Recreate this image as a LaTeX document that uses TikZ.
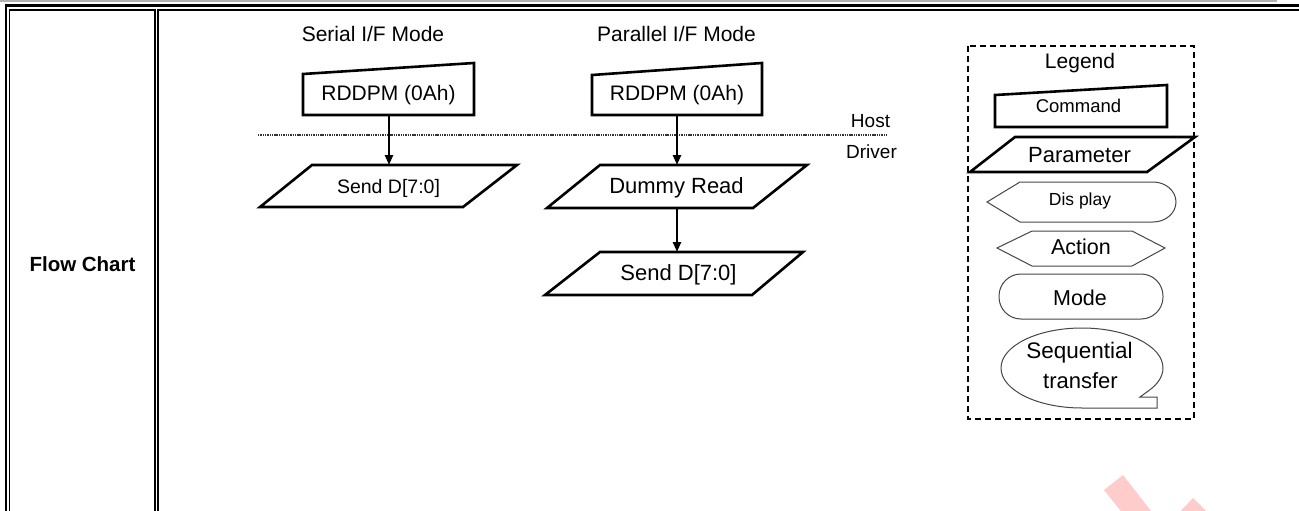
\documentclass[tikz,border=0pt]{standalone}
\usepackage{fontspec}
\setmainfont{Liberation Sans}
\usetikzlibrary{arrows.meta}
\definecolor{wm}{RGB}{255,204,204}
\definecolor{thin}{RGB}{70,70,70}
\tikzset{
  fs/.style={font=\fontsize{#1}{#1}\selectfont},
  lbl/.style={inner sep=0pt, anchor=base},
  thickshape/.style={draw=black, line width=2.6pt, line join=miter},
  thinshape/.style={draw=thin, line width=1pt},
  flowarrow/.style={line width=2.4pt, -{Triangle[length=10pt,width=8pt]}},
  border/.style={draw=black, line width=#1},
}
\begin{document}
\begin{tikzpicture}[x=1pt,y=-1pt]
\useasboundingbox (0,0) rectangle (1299,511);
\fill[white] (0,0) rectangle (1299,511);
% watermark
\begin{scope}
\clip (0,0) rectangle (1299,511);
\fill[wm] (1104,490) -- (1123,475) -- (1158,520) -- (1128,520) -- cycle;
\fill[wm] (1193,498) -- (1212,517) -- (1190,540) -- (1171,521) -- cycle;
\end{scope}
% table frame
\draw[gray!60, line width=1.2pt] (0,1) -- (1277,1);
\draw[border=3.3pt] (5,5.6) -- (1299,5.6);
\draw[border=1.5pt] (9,9.8) -- (155,9.8);
\draw[border=2pt] (157,10) -- (1299,10);
\draw[border=2pt] (6,4) -- (6,511);
\draw[border=1.5pt] (9.3,9) -- (9.3,511);
\draw[border=2pt] (155,9) -- (155,511);
\draw[border=2pt] (158,9) -- (158,511);
\node[lbl, fs=20.5, font=\bfseries\fontsize{20.5}{20.5}\selectfont] (fc) at (82.5,271) {Flow Chart};
% titles
\node[lbl, fs=21] (ts) at (373,42) {Serial I/F Mode};
\node[lbl, fs=21] (tp) at (676.5,42) {Parallel I/F Mode};
% host / driver divider
\coordinate (dl) at (258,135);
\coordinate (dr) at (888,135);
\draw[black!80, line width=1.1pt, dash pattern=on 1.4pt off 0.9pt] (dl) -- (dr);
\node[lbl, fs=19] (host) at (870.5,128) {Host};
\node[lbl, fs=19] (drv) at (871.5,158) {Driver};
% serial column
\draw[thickshape] (303,74) -- (474,63) -- (474,115) -- (303,115) -- cycle;
\node[lbl, fs=21] (s1) at (388.5,100) {RDDPM (0Ah)};
\draw[thickshape] (312,165) -- (517,165) -- (463,207) -- (260,207) -- cycle;
\node[lbl, fs=19.5] (s2) at (388.5,193) {Send D[7:0]};
\coordinate (s1b) at (389,115);
\coordinate (s2t) at (389,165);
\draw[flowarrow] (s1b) -- (s2t);
% parallel column
\draw[thickshape] (592,75) -- (762,63) -- (762,115) -- (592,115) -- cycle;
\node[lbl, fs=21] (p1) at (677,100) {RDDPM (0Ah)};
\draw[thickshape] (600,165) -- (807,165) -- (753,208) -- (547,208) -- cycle;
\node[lbl, fs=22] (p2) at (676.5,193) {Dummy Read};
\draw[thickshape] (600,252) -- (803,252) -- (752,295) -- (545,295) -- cycle;
\node[lbl, fs=22] (p3) at (678.5,280) {Send D[7:0]};
\coordinate (p1b) at (677,115);
\coordinate (p2t) at (677,165);
\coordinate (p2b) at (677,208);
\coordinate (p3t) at (677,252);
\draw[flowarrow] (p1b) -- (p2t);
\draw[flowarrow] (p2b) -- (p3t);
% legend
\draw[black, line width=1.5pt, dash pattern=on 6pt off 4pt] (968,46) rectangle (1194,419);
\node[lbl, fs=21] (lg) at (1080,69) {Legend};
\draw[thickshape] (995,95) -- (1167,85) -- (1167,127) -- (995,127) -- cycle;
\node[lbl, fs=18.5] (lc) at (1078.5,113) {Command};
\draw[thickshape] (1015,137) -- (1195,137) -- (1147,172) -- (970,172) -- cycle;
\node[lbl, fs=22] (lp) at (1079.5,162) {Parameter};
\draw[thinshape] (987,202) -- (1020,182) -- (1153,182) arc[start angle=-90, end angle=90, x radius=23, y radius=20] -- (1020,222) -- cycle;
\node[lbl, fs=17.5] (ld) at (1080,205) {Dis play};
\draw[thinshape] (997,248) -- (1032,231) -- (1132,231) -- (1165,248) -- (1132,266) -- (1032,266) -- cycle;
\node[lbl, fs=21.5] (la) at (1081,254) {Action};
\draw[thinshape, rounded corners=22pt] (999,274) rectangle (1163,319);
\node[lbl, fs=21.5] (lm) at (1080,305) {Mode};
\draw[thinshape] (1157,408) -- (1082,408) arc[start angle=90, end angle=395, x radius=81, y radius=40] -- (1140,397) -- (1157,397) -- cycle;
\node[lbl, fs=22.5] (lsq) at (1079.5,358) {Sequential};
\node[lbl, fs=22] (ltr) at (1080.5,388) {transfer};
\end{tikzpicture}
\end{document}
